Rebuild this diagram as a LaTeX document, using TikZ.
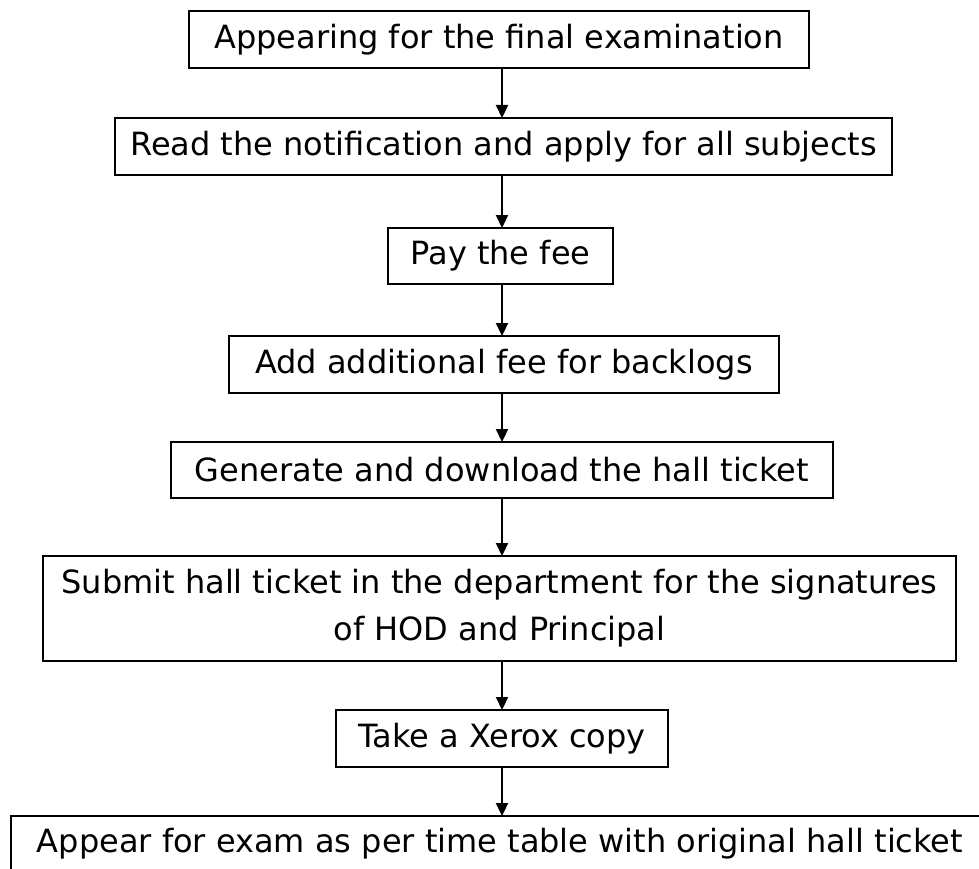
\documentclass[tikz,border=0pt]{standalone}
\usepackage{fontspec}
\setmainfont{DejaVu Sans}
\usetikzlibrary{arrows.meta}
\tikzset{
  stepbox/.style={draw=black, line width=2.6pt, inner sep=0pt, outer sep=0pt,
    font=\fontsize{32}{47}\selectfont, text=black, align=center},
  arr/.style={line width=2.2pt, -{Triangle[width=12pt,length=13pt]}}
}
\begin{document}
\begin{tikzpicture}[x=1pt,y=-1pt]
\useasboundingbox (0,0) rectangle (979,869);
\node[stepbox, minimum width=620pt, minimum height=57pt] (n1) at (499,39.5) {Appearing for the final examination};
\node[stepbox, minimum width=777pt, minimum height=57pt] (n2) at (503.5,146.5) {Read the notification and apply for all subjects};
\node[stepbox, minimum width=225pt, minimum height=56pt] (n3) at (500.5,256) {Pay the fee};
\node[stepbox, minimum width=550pt, minimum height=57pt] (n4) at (504,364.5) {Add additional fee for backlogs};
\node[stepbox, minimum width=662pt, minimum height=56pt] (n5) at (502,470) {Generate and download the hall ticket};
\node[stepbox, minimum width=913pt, minimum height=105pt] (n6) at (499.5,608.5) {Submit hall ticket in the department for the signatures\\of HOD and Principal};
\node[stepbox, minimum width=332pt, minimum height=57pt] (n7) at (502,738.5) {Take a Xerox copy};
\node[stepbox, minimum width=978pt, minimum height=56pt] (n8) at (500,844) {Appear for exam as per time table with original hall ticket};
\coordinate (ax) at (502,0);
\foreach \a/\b in {n1/n2,n2/n3,n3/n4,n4/n5,n5/n6,n6/n7,n7/n8}
  \draw[arr] (\a.south -| ax) -- (\b.north -| ax);
\end{tikzpicture}
\end{document}
